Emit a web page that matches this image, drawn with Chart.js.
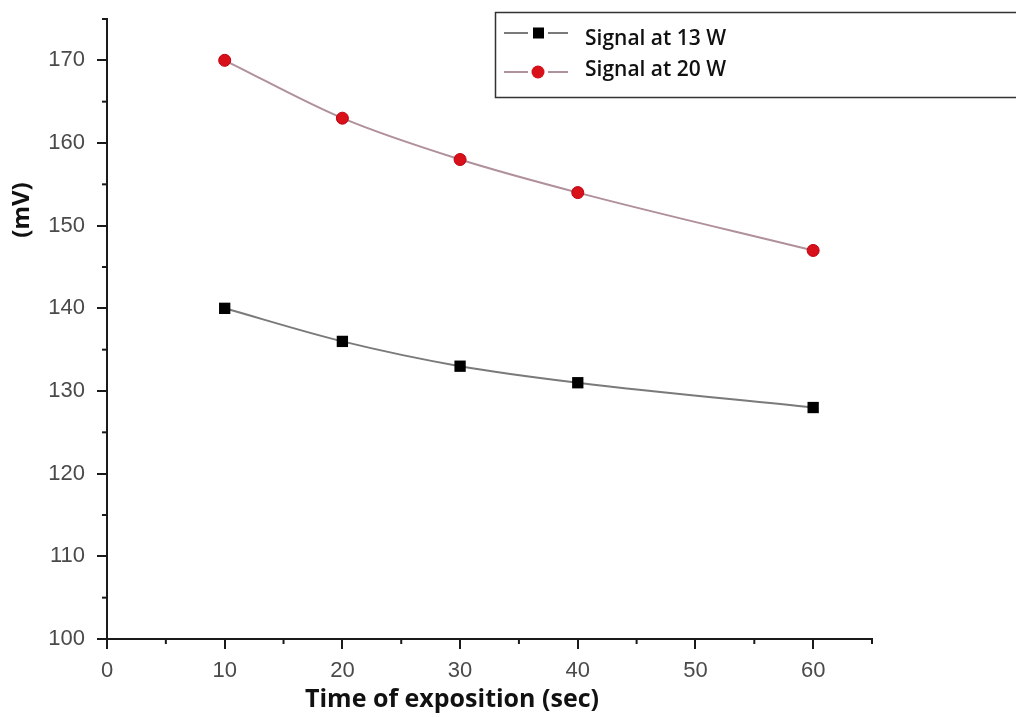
<!DOCTYPE html>
<html>
<head>
<meta charset="utf-8">
<script src="https://cdn.jsdelivr.net/npm/chart.js@4.4.1/dist/chart.umd.min.js"></script>
<style>
html,body{margin:0;padding:0;background:#fff;}
#wrap{position:relative;width:1016px;height:717px;}
</style>
</head>
<body>
<div id="wrap"><canvas id="c" width="1016" height="717"></canvas></div>
<script>
const timesSec = [10, 20, 30, 40, 60];
const signal13W = [140, 136, 133, 131, 128];
const signal20W = [170, 163, 158, 154, 147];
const seriesLabels = ['Signal at 13 W', 'Signal at 20 W'];
const xTitle = 'Time of exposition (sec)';
const yTitle = '(mV)';

const minorTicks = {
  id: 'minorTicks',
  afterDraw(chart) {
    const ctx = chart.ctx, xs = chart.scales.x, ys = chart.scales.y;
    ctx.save();
    ctx.strokeStyle = '#1a1a1a';
    ctx.lineWidth = 2;
    for (let v = 5; v <= 65; v += 10) {
      const px = xs.getPixelForValue(v);
      ctx.beginPath(); ctx.moveTo(px, xs.top); ctx.lineTo(px, xs.top + 5); ctx.stroke();
    }
    for (let v = 105; v <= 175; v += 10) {
      const py = ys.getPixelForValue(v);
      ctx.beginPath(); ctx.moveTo(ys.right, py); ctx.lineTo(ys.right - 5, py); ctx.stroke();
    }
    // titles
    ctx.fillStyle = '#111';
    ctx.textAlign = 'center';
    ctx.textBaseline = 'middle';
    ctx.font = 'bold 25px "Open Sans"';
    ctx.fillText(xTitle, 452, 700);
    ctx.save();
    ctx.translate(22, 210);
    ctx.rotate(-Math.PI / 2);
    ctx.font = 'bold 24px "Open Sans"';
    ctx.fillText(yTitle, 0, 0);
    ctx.restore();
    // legend
    ctx.strokeStyle = '#333';
    ctx.lineWidth = 1.5;
    ctx.strokeRect(495.5, 12.5, 530, 85);
    const rows = [33, 72];
    chart.data.datasets.forEach((ds, i) => {
      const y = rows[i];
      ctx.strokeStyle = ds.borderColor;
      ctx.lineWidth = 2;
      ctx.beginPath(); ctx.moveTo(504, y); ctx.lineTo(528, y); ctx.moveTo(548, y); ctx.lineTo(568, y); ctx.stroke();
      ctx.fillStyle = ds.pointBackgroundColor;
      if (ds.pointStyle === 'rect') {
        ctx.fillRect(533, y - 5.5, 11, 11);
      } else {
        ctx.beginPath(); ctx.arc(538, y, 6.5, 0, Math.PI * 2); ctx.fill();
      }
      ctx.fillStyle = '#111';
      ctx.textAlign = 'left';
      ctx.font = '600 21px "Open Sans"';
      ctx.fillText(ds.label, 585, i === 0 ? 39 : 70);
    });
    ctx.restore();
  }
};

new Chart(document.getElementById('c'), {
  type: 'line',
  data: {
    datasets: [
      {
        label: seriesLabels[0],
        data: timesSec.map((t, i) => ({x: t, y: signal13W[i]})),
        borderColor: '#7a7a7a',
        borderWidth: 2,
        pointStyle: 'rect',
        pointRadius: 8,
        pointBackgroundColor: '#000',
        pointBorderColor: '#000',
        pointBorderWidth: 0,
        cubicInterpolationMode: 'monotone'
      },
      {
        label: seriesLabels[1],
        data: timesSec.map((t, i) => ({x: t, y: signal20W[i]})),
        borderColor: '#b0909a',
        borderWidth: 2,
        pointStyle: 'circle',
        pointRadius: 6,
        pointBackgroundColor: '#d8101a',
        pointBorderColor: '#c00010',
        pointBorderWidth: 1,
        cubicInterpolationMode: 'monotone'
      }
    ]
  },
  options: {
    responsive: false,
    animation: false,
    layout: {padding: {left: 0, top: 19, right: 144, bottom: 0}},
    plugins: {legend: {display: false}, tooltip: {enabled: false}},
    scales: {
      x: {
        type: 'linear',
        min: 0, max: 65,
        afterFit(s) { s.height = 78; s.paddingLeft = 0; s.paddingRight = 0; },
        border: {display: true, color: '#1a1a1a', width: 2},
        grid: {display: true, drawOnChartArea: false, drawTicks: true, tickLength: 10, color: '#1a1a1a', lineWidth: 2},
        ticks: {stepSize: 10, includeBounds: false, color: '#4a4a4a', padding: 9, font: {family: 'Liberation Sans', size: 22}}
      },
      y: {
        min: 100, max: 175,
        afterFit(s) { s.width = 107; s.paddingTop = 0; s.paddingBottom = 0; },
        border: {display: true, color: '#1a1a1a', width: 2},
        grid: {display: true, drawOnChartArea: false, drawTicks: true, tickLength: 10, color: '#1a1a1a', lineWidth: 2},
        ticks: {stepSize: 10, includeBounds: false, color: '#4a4a4a', padding: 12, font: {family: 'Liberation Sans', size: 22}}
      }
    }
  },
  plugins: [minorTicks]
});
</script>
</body>
</html>
